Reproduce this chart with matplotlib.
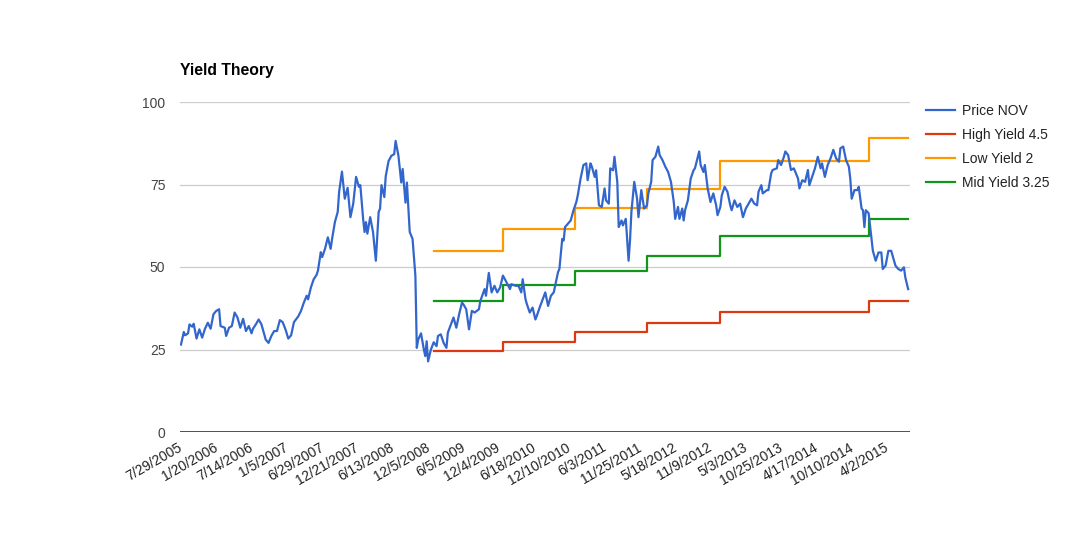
import numpy as np
import matplotlib
matplotlib.use("Agg")
import matplotlib.pyplot as plt
import matplotlib.transforms as mtrans

plt.rcParams['font.family'] = ['Liberation Sans', 'DejaVu Sans']

# weekly rows, one tick label every 25 rows
tick_labels = ['7/29/2005', '1/20/2006', '7/14/2006', '1/5/2007', '6/29/2007',
               '12/21/2007', '6/13/2008', '12/5/2008', '6/5/2009', '12/4/2009',
               '6/18/2010', '12/10/2010', '6/3/2011', '11/25/2011', '5/18/2012',
               '11/9/2012', '5/3/2013', '10/25/2013', '4/17/2014', '10/10/2014',
               '4/2/2015']
n_rows = 516

price_week = [
    0, 2, 3, 5, 6, 8, 9, 11, 13, 15, 17, 19, 21, 23, 25, 27, 28, 31, 32, 34,
    36, 38, 40, 42, 44, 46, 48, 50, 51, 53, 55, 57, 59, 60, 62, 64, 66, 68, 70, 72,
    74, 76, 78, 80, 83, 85, 87, 89, 90, 92, 94, 96, 97, 99, 100, 102, 104, 106, 107, 109,
    111, 112, 114, 116, 118, 120, 122, 124, 126,
    127, 129, 130, 131, 132, 134, 136, 138, 140, 141, 142, 144, 145, 147, 149, 151, 152, 154, 156, 157,
    159, 160, 162, 164, 166, 167, 168, 170, 172, 173, 174, 175, 177, 179, 181, 182, 184, 186, 188, 189,
    192, 193, 195, 197, 199, 200, 202, 204, 206, 208, 211, 212, 215, 216, 218, 220, 222, 224, 226, 228,
    230, 233, 234, 237, 239, 241, 242, 244, 245, 247, 249, 251, 252, 254,
    258, 260, 262, 264, 265, 267, 268, 270, 271, 272, 274, 276, 278, 280, 281, 283, 285, 287, 288, 290,
    291, 293, 294, 296, 298, 300, 301, 303, 304, 306, 307, 309, 310, 312, 313, 315, 317, 318, 319, 321,
    323, 324, 326, 328, 330, 331, 333, 334, 336, 338, 339, 341, 343, 345, 347, 349, 350, 352, 353, 355,
    356, 357, 359, 361, 363, 364, 367, 368, 370, 371, 373, 375, 377, 379, 380, 382, 383,
    385, 387, 389, 390, 392, 394, 396, 398, 400, 402, 404, 406, 408, 409, 411, 412, 415, 416, 418, 419,
    422, 423, 425, 427, 428, 430, 432, 434, 435, 437, 438, 440, 442, 444, 445, 447, 449, 451, 453, 454,
    456, 458, 460, 462, 464, 466, 467, 469, 471, 473, 474, 475, 477, 479, 480, 482, 483, 484, 485, 487,
    489, 490, 492, 494, 496, 497, 499, 501, 503, 505, 506, 508, 510, 512, 513, 515,
]
price_nov = [
    26.5, 30.3, 29.3, 29.9, 32.6, 31.9, 32.8, 28.3, 31.1, 28.6, 31.3, 33.1, 31.3, 35.7, 36.7, 37.2, 32.1, 31.6, 29.1, 31.6,
    32.1, 36.2, 34.7, 31.6, 34.3, 30.6, 32.1, 29.9, 31.3, 32.6, 34.1, 32.6, 29.6, 28.0, 27.0, 29.1, 30.6, 30.6, 33.9, 33.3,
    31.1, 28.3, 29.3, 33.3, 35.0, 36.7, 39.2, 41.3, 40.2, 43.8, 46.3, 47.6, 48.9, 54.5, 53.0, 55.5, 59.0, 55.5, 58.5, 63.6,
    66.7, 72.8, 78.9, 70.7, 74.0, 65.1, 69.2, 77.3, 74.3,
    74.8, 64.6, 60.6, 63.6, 60.1, 65.1, 60.6, 51.9, 66.7, 67.7, 74.8, 71.2, 77.5, 82.1, 83.7, 84.2, 88.2, 83.7, 75.6, 79.7,
    69.5, 75.6, 60.6, 58.5, 47.4, 25.5, 28.0, 29.9, 25.0, 23.0, 27.5, 21.4, 25.0, 27.2, 26.0, 29.1, 29.6, 27.0, 25.5, 30.1,
    33.6, 34.7, 31.6, 35.7, 39.2, 38.7, 37.2, 31.1, 36.7, 36.2, 37.2, 39.7, 43.3, 41.3, 48.2, 42.3, 44.3, 42.3, 43.8, 47.4,
    45.8, 43.3, 44.8, 44.3, 44.3, 42.3, 46.3, 40.2, 38.7, 36.2, 37.7, 34.1, 35.2, 37.7,
    42.3, 38.2, 41.3, 42.3, 44.3, 48.4, 49.4, 58.5, 58.0, 62.1, 63.1, 64.1, 67.2, 69.7, 71.7, 76.8, 80.9, 81.4, 76.3, 81.4,
    80.4, 77.3, 79.3, 68.7, 68.2, 73.8, 70.2, 69.2, 79.9, 79.3, 83.4, 75.8, 62.1, 64.1, 62.6, 64.6, 51.9, 58.0, 66.7, 75.8,
    70.7, 65.1, 73.3, 67.7, 68.7, 72.3, 75.8, 82.4, 83.4, 86.5, 83.9, 82.4, 80.4, 78.8, 75.8, 69.7, 64.6, 68.2, 64.6, 67.7,
    64.1, 67.2, 70.2, 76.8, 79.3, 79.9, 85.0, 80.9, 78.8, 80.9, 73.8, 69.7, 72.3, 68.7, 65.7, 68.2, 71.7,
    74.3, 72.8, 68.7, 67.2, 70.2, 68.2, 69.2, 65.1, 67.7, 69.2, 70.7, 69.2, 68.7, 72.8, 74.8, 72.3, 73.3, 73.3, 78.4, 79.4,
    79.9, 82.4, 80.9, 83.4, 85.0, 83.9, 79.4, 79.9, 78.9, 76.8, 73.8, 76.3, 75.8, 79.4, 74.8, 77.3, 79.9, 83.4, 79.9, 81.4,
    77.3, 80.9, 82.9, 85.5, 82.9, 81.9, 86.0, 86.5, 82.4, 80.4, 76.8, 70.7, 73.3, 73.3, 74.3, 67.7, 67.2, 62.1, 67.2, 66.3,
    58.5, 54.9, 51.9, 54.4, 54.4, 49.4, 50.4, 54.9, 54.9, 51.9, 50.4, 49.4, 48.9, 49.9, 46.8, 43.3,
]

# yield lines: week where each level starts, last entry closes the line
step_week = [179, 228, 279, 330, 382, 434, 487, 515]
high_yield = [24.6, 27.4, 30.3, 32.9, 36.5, 36.5, 39.6, 39.6]
low_yield = [55.0, 61.6, 67.8, 73.7, 82.1, 82.1, 89.2, 89.2]
mid_yield = [39.7, 44.6, 48.9, 53.4, 59.5, 59.5, 64.5, 64.5]

fig = plt.figure(figsize=(10.9, 5.35), dpi=100)
ax = fig.add_axes([180 / 1090, 103 / 535, 730 / 1090, 330 / 535])

ax.plot(price_week, price_nov, color='#3366cc', lw=1.6, label='Price NOV', zorder=5)
ax.plot(step_week, high_yield, color='#dc3912', lw=1.6, drawstyle='steps-post', label='High Yield 4.5')
ax.plot(step_week, low_yield, color='#ff9900', lw=1.6, drawstyle='steps-post', label='Low Yield 2')
ax.plot(step_week, mid_yield, color='#109618', lw=1.6, drawstyle='steps-post', label='Mid Yield 3.25')

ax.set_xlim(-0.7, n_rows + 0.3)
ax.set_ylim(0, 100)
ax.set_yticks([0, 25, 50, 75, 100])
ax.yaxis.grid(True, color='#cccccc', lw=0.9)
ax.axhline(0, color='#333333', lw=1.2, zorder=6)
ax.set_axisbelow(True)
for s in ax.spines.values():
    s.set_visible(False)

ax.set_xticks(np.arange(0, n_rows, 25)[:len(tick_labels)])
ax.set_xticklabels(tick_labels, rotation=30, ha='right', rotation_mode='anchor')
ax.tick_params(axis='x', length=0, pad=6, labelsize=10, labelcolor='#222222')
ax.tick_params(axis='y', length=0, pad=10.5, labelsize=10, labelcolor='#444444')
shift = mtrans.ScaledTranslation(-3 / 100, 0, fig.dpi_scale_trans)
for lab in ax.get_xticklabels():
    lab.set_transform(lab.get_transform() + shift)

fig.text(180 / 1090, 1 - 70 / 535, 'Yield Theory', fontsize=11.3, fontweight='bold',
         color='#000000', va='center', ha='left')

leg = ax.legend(loc='upper left', bbox_to_anchor=(926 / 1090, 1 - 104 / 535),
                bbox_transform=fig.transFigure, frameon=False, fontsize=10,
                handlelength=2.1, handletextpad=0.5, labelspacing=0.72, borderpad=0,
                borderaxespad=0)
for t in leg.get_texts():
    t.set_color('#222222')

fig.savefig('out.png', dpi=100)
